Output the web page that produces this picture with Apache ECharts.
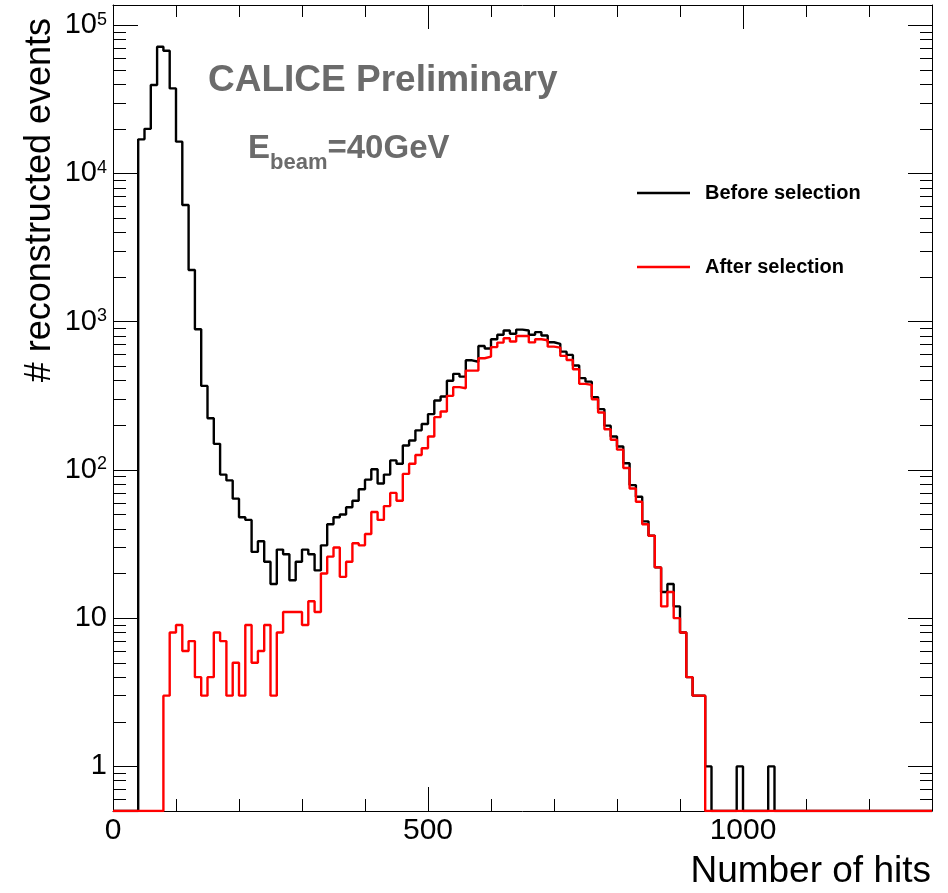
<!DOCTYPE html>
<html><head><meta charset="utf-8">
<script src="https://cdn.jsdelivr.net/npm/echarts@6/dist/echarts.min.js"></script>
<style>html,body{margin:0;padding:0;background:#fff}#c{width:948px;height:893px}</style>
</head><body><div id="c"></div>
<script>
// ---- data (bins of width 10 hits, from 0 to 1300) ----
const binWidth = 10;
const xMin = 0, xMax = 1300;
const yMin = 0.5, yMax = 1.37e5;

const beforeSelection = [
  0,0,0,0,17000,20000,39500,71600,67300,37500,
  16400,6130,2235,890,369,223,150,93,85,64,
  48,46,28,33,24,17,29,27,18,24,
  29,27,21,31,43,48,50,56,62,74,
  86,101,81,93,116,110,146,158,185,204,
  238,294,313,400,445,426,549,537,686,660,
  761,816,873,830,885,873,816,851,808,727,
  709,628,597,506,416,394,310,257,199,168,
  144,111,79,66,45,36,22,15,17,12,
  8,4,3,3,1,0,0,0,0,1,
  0,0,0,0,1,0,0,0,0,0,
  0,0,0,0,0,0,0,0,0,0,
  0,0,0,0,0,0,0,0,0,0
];
const afterSelection = [
  0,0,0,0,0,0,0,0,3,8,
  9,6,7,4,3,4,8,7,3,5,
  3,9,5,6,9,3,8,11,11,11,
  9,13,11,20,26,30,19,24,32,31,
  37,52,46,57,70,62,94,110,126,140,
  168,227,248,316,362,356,468,468,567,582,
  674,723,774,735,801,801,725,761,750,679,
  669,588,552,478,381,375,300,244,188,160,
  137,103,75,61,43,36,22,12,15,10,
  8,4,3,3,0,0,0,0,0,0,
  0,0,0,0,0,0,0,0,0,0,
  0,0,0,0,0,0,0,0,0,0,
  0,0,0,0,0,0,0,0,0,0
];
const seriesNames = ['Before selection', 'After selection'];
const xLabelValues = [0, 500, 1000];
const xMajorTicks = [500, 1000];
const xMinorTicks = [100,200,300,400,600,700,800,900,1100,1200];
const yLabelValues = [1, 10, 100, 1000, 10000, 100000];
const yMinorTicks = [0.6,0.7,0.8,0.9];
[1,10,100,1000,10000].forEach(d => { for (let k = 2; k <= 9; k++) yMinorTicks.push(k*d); });

// ---- build histogram step data (zero bins drawn at the frame bottom, as ROOT does) ----
function steps(counts) {
  const pts = counts.map((c, i) => [xMin + i*binWidth, c > 0 ? c : yMin]);
  const last = counts[counts.length-1];
  pts.push([xMin + counts.length*binWidth, last > 0 ? last : yMin]);
  return pts;
}

const FONT = "'Liberation Sans', Arial, Helvetica, sans-serif";
const lineSt = {color:'#000', width:1};
const LINE_ICON = 'path://M0,0 L53,0 L53,2.4 L0,2.4 Z';
const GRAY = '#6b6b6b';

// text width helper for the E_beam label layout
const mctx = document.createElement('canvas').getContext('2d');
function textWidth(t, size) { mctx.font = 'bold ' + size + 'px ' + FONT; return mctx.measureText(t).width; }
const eX = 248, mainSize = 33, subSize = 22;
const subX = eX + textWidth('E', mainSize);
const restX = subX + textWidth('beam', subSize);

function xAx(pos, ticks, len, withLine, labels) {
  return {
    type:'value', min:xMin, max:xMax, position:pos,
    axisLine:{show:withLine, onZero:false, lineStyle:lineSt},
    axisTick:{show:true, inside:true, length:len, customValues:ticks, lineStyle:lineSt},
    axisLabel: labels ? {show:true, customValues:labels, fontSize:30, margin:5, color:'#000', fontFamily:FONT,
                         formatter: v => String(v)}
                      : {show:false},
    splitLine:{show:false}
  };
}
function yAx(pos, ticks, len, withLine, labels) {
  return {
    type:'log', logBase:10, min:yMin, max:yMax, position:pos,
    axisLine:{show:withLine, onZero:false, lineStyle:lineSt},
    axisTick:{show:true, inside:true, length:len, customValues:ticks, lineStyle:lineSt},
    axisLabel: labels ? {
      show:true, customValues:labels, margin:6, color:'#000', fontFamily:FONT,
      formatter: v => {
        const e = Math.round(Math.log10(v));
        if (e <= 1) return '{b|' + String(Math.round(v)) + '}';
        return '{b|10}{s|' + e + '}';
      },
      rich:{
        b:{fontSize:29, fontFamily:FONT, color:'#000', lineHeight:29, verticalAlign:'top'},
        s:{fontSize:18, fontFamily:FONT, color:'#000', verticalAlign:'top'}
      }
    } : {show:false},
    splitLine:{show:false}, minorSplitLine:{show:false}
  };
}

const chart = echarts.init(document.getElementById('c'), null, {renderer:'canvas'});
chart.setOption({
  backgroundColor:'#fff',
  animation:false,
  grid:{left:113, top:5, width:819, height:806, containLabel:false},
  xAxis:[
    xAx('bottom', xMajorTicks, 24, true, xLabelValues),
    xAx('bottom', xMinorTicks, 12, false, null),
    xAx('top', xMajorTicks, 24, true, null),
    xAx('top', xMinorTicks, 12, false, null)
  ],
  yAxis:[
    yAx('left', yLabelValues, 25, true, yLabelValues),
    yAx('left', yMinorTicks, 13, false, null),
    yAx('right', yLabelValues, 24, true, null),
    yAx('right', yMinorTicks, 12, false, null)
  ],
  legend:{
    orient:'vertical', left:637, top:183, padding:0, itemWidth:53, itemHeight:20, itemGap:54,
    data:seriesNames.map(n => ({name:n, icon:LINE_ICON})),
    textStyle:{fontSize:20, fontWeight:'bold', color:'#000', fontFamily:FONT, padding:[0,0,0,10]}
  },
  series:[
    {name:seriesNames[0], type:'line', step:'end', symbol:'none', data:steps(beforeSelection),
     xAxisIndex:0, yAxisIndex:0, lineStyle:{color:'#000', width:2.4}, itemStyle:{color:'#000'}, z:3},
    {name:seriesNames[1], type:'line', step:'end', symbol:'none', data:steps(afterSelection),
     xAxisIndex:0, yAxisIndex:0, lineStyle:{color:'#ff0000', width:2.4}, itemStyle:{color:'#ff0000'}, z:4}
  ],
  graphic:[
    {type:'text', x:208, y:81, style:{text:'CALICE Preliminary', fontSize:37, fontWeight:'bold',
      fontFamily:FONT, fill:GRAY, align:'left', verticalAlign:'middle'}},
    {type:'text', x:eX, y:148.5, style:{text:'E', fontSize:mainSize, fontWeight:'bold',
      fontFamily:FONT, fill:GRAY, align:'left', verticalAlign:'middle'}},
    {type:'text', x:subX, y:163, style:{text:'beam', fontSize:subSize, fontWeight:'bold',
      fontFamily:FONT, fill:GRAY, align:'left', verticalAlign:'middle'}},
    {type:'text', x:restX, y:148.5, style:{text:'=40GeV', fontSize:mainSize, fontWeight:'bold',
      fontFamily:FONT, fill:GRAY, align:'left', verticalAlign:'middle'}},
    {type:'text', x:40, y:18, rotation:Math.PI/2, style:{text:'# reconstructed events', fontSize:36,
      fontFamily:FONT, fill:'#000', align:'right', verticalAlign:'middle'}},
    {type:'text', x:931, y:872, style:{text:'Number of hits', fontSize:37,
      fontFamily:FONT, fill:'#000', align:'right', verticalAlign:'middle'}}
  ]
});
</script></body></html>
